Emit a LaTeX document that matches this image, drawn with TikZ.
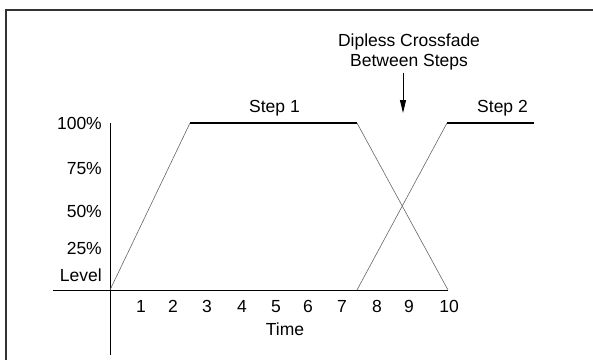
\documentclass[tikz,border=0pt]{standalone}
\usepackage{fontspec}
\setmainfont{Liberation Sans}
\usetikzlibrary{positioning,arrows.meta}
\begin{document}
\begin{tikzpicture}[x=1pt,y=-1pt,
        every node/.style={font=\fontsize{17.5}{19.3}\selectfont,inner sep=0pt},
        axis/.style={draw=black,line width=1pt},
        flat/.style={draw=black,line width=1.1pt},
        ramp/.style={draw=black!60,line width=0.6pt},
        frame/.style={draw=black!80,line width=2.6pt}]
    \useasboundingbox (0,0) rectangle (593,359);

    \coordinate (fbot) at (6,360);
    \coordinate (fcorner) at (6,10);
    \coordinate (fright) at (594,10);
    \draw[frame] (fbot) -- (fcorner) -- (fright);

    \coordinate (o) at (110,290);
    \coordinate (ytop) at (110,123);
    \coordinate (ybot) at (110,355);
    \coordinate (xleft) at (53,290);
    \coordinate (xright) at (448,290);
    \draw[axis] (ytop) -- (ybot);
    \draw[axis] (xleft) -- (xright);

    \coordinate (s1a) at (190,123);
    \coordinate (s1b) at (357,123);
    \coordinate (s1c) at (448,290);
    \coordinate (s2a) at (357,290);
    \coordinate (s2b) at (447,123);
    \coordinate (s2c) at (534,123);
    \draw[ramp] (o) -- (s1a);
    \draw[flat] (s1a) -- (s1b);
    \draw[ramp] (s1b) -- (s1c);
    \draw[ramp] (s2a) -- (s2b);
    \draw[flat] (s2b) -- (s2c);

    \foreach \n/\x in {1/141,2/173,3/207,4/242,5/276,6/308,7/342,8/377,9/409,10/449}
        \node[anchor=base] (t\n) at (\x,312) {\n};
    \node[anchor=base] (time) at (285,335) {Time};

    \foreach \p/\y in {100/129,75/174,50/217,25/254}
        \node[anchor=base east] (l\p) at (102,\y) {\p\%};
    \node[anchor=base east] (level) at (102,281) {Level};

    \node[anchor=base] (step1) at (274.5,112.5) {Step 1};
    \node[anchor=base] (step2) at (502.5,112) {Step 2};

    \node[anchor=north,align=center] (fade) at (409,34) {Dipless Crossfade\\Between Steps};
    \coordinate (fadefrom) at (403,72.5);
    \coordinate (fadeto) at (403,113);
    \draw[-{Triangle[length=13pt,width=6pt]},line width=1pt] (fadefrom) -- (fadeto);

\end{tikzpicture}
\end{document}
